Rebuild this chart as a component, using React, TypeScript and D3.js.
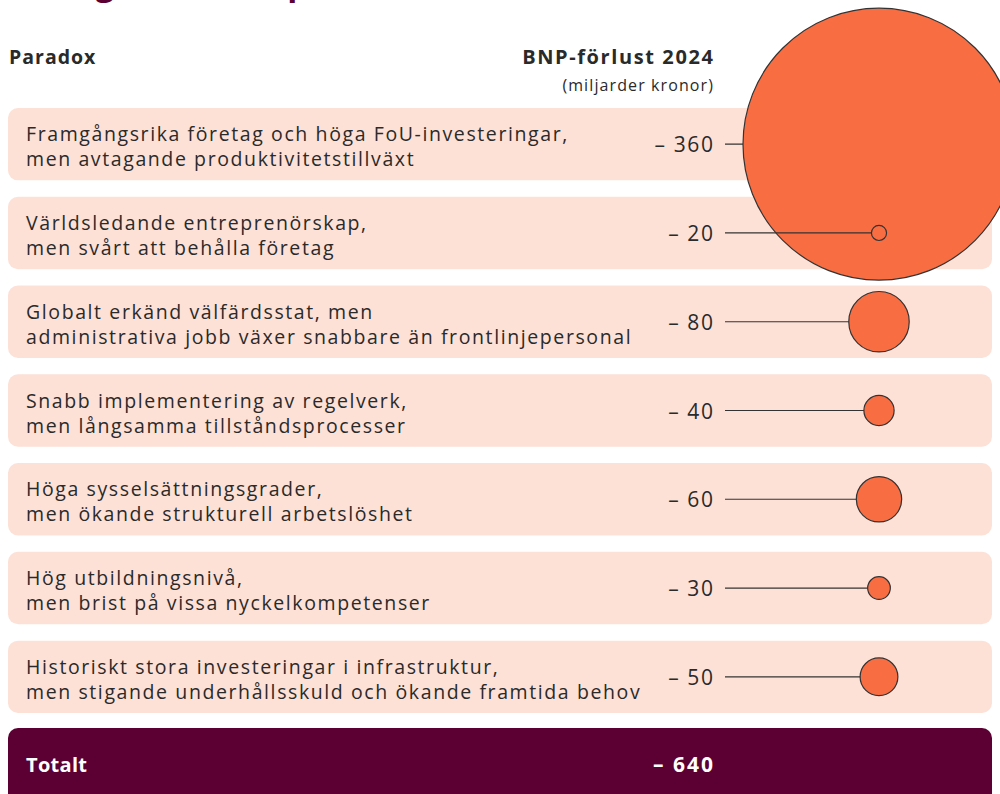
import React from "react";
import * as d3 from "d3";

const paradoxLine1 = [
  "Framgångsrika företag och höga FoU-investeringar,",
  "Världsledande entreprenörskap,",
  "Globalt erkänd välfärdsstat, men",
  "Snabb implementering av regelverk,",
  "Höga sysselsättningsgrader,",
  "Hög utbildningsnivå,",
  "Historiskt stora investeringar i infrastruktur,",
];
const paradoxLine2 = [
  "men avtagande produktivitetstillväxt",
  "men svårt att behålla företag",
  "administrativa jobb växer snabbare än frontlinjepersonal",
  "men långsamma tillståndsprocesser",
  "men ökande strukturell arbetslöshet",
  "men brist på vissa nyckelkompetenser",
  "men stigande underhållsskuld och ökande framtida behov",
];
const losses = [360, 20, 80, 40, 60, 30, 50];
const totalLabel = "Totalt";
const totalValue = 640;
const titleText = "Sveriges tillväxtparadoxer";

const W = 1000;
const H = 794;
const FONT = "'Open Sans', 'DejaVu Sans', sans-serif";
const TXT = "#2a2a2a";
const ROWBG = "#FDE1D7";
const DOT = "#F96D42";
const PURPLE = "#5C0034";

export default function App() {
  const idx = d3.range(losses.length);
  const y = d3.scaleBand<number>().domain(idx).range([108, 713]).paddingInner(0.185).paddingOuter(0);
  const r = d3.scaleLinear().domain([0, 360]).range([0, 136]);
  const cx = 879;
  const rowX = 8;
  const rowW = 984;
  const labelX = 713;
  const lineX0 = 725;
  const fmt = (v: number) => "\u2013 " + d3.format("d")(v);

  return (
    <svg width={W} height={H} style={{ position: "absolute", left: 0, top: 0, background: "#fff" }}>
      <text x={9} y={-5} fontFamily={FONT} fontWeight={700} fontSize={33} fill={PURPLE} letterSpacing={1}>
        {titleText}
      </text>
      <text x={9} y={64} fontFamily={FONT} fontWeight={700} fontSize={19.5} fill={TXT} letterSpacing={1}>
        Paradox
      </text>
      <text x={labelX + 1.5} y={64} textAnchor="end" fontFamily={FONT} fontWeight={700} fontSize={20} fill={TXT} letterSpacing={1.6}>
        BNP-förlust 2024
      </text>
      <text x={labelX + 1} y={91} textAnchor="end" fontFamily={FONT} fontSize={16} fill={TXT} letterSpacing={1.1}>
        (miljarder kronor)
      </text>
      {idx.map((i) => (
        <rect key={"bg" + i} x={rowX} y={y(i)} width={rowW} height={y.bandwidth()} rx={10} fill={ROWBG} />
      ))}
      {idx.map((i) => {
        const cy = (y(i) as number) + y.bandwidth() / 2;
        return (
          <g key={"row" + i}>
            <text x={26} y={cy - 3} fontFamily={FONT} fontSize={19.5} fill={TXT} letterSpacing={1.6}>
              {paradoxLine1[i]}
            </text>
            <text x={26} y={cy + 22} fontFamily={FONT} fontSize={19.5} fill={TXT} letterSpacing={1.6}>
              {paradoxLine2[i]}
            </text>
            <text x={labelX + 1.5} y={cy + 8} textAnchor="end" fontFamily={FONT} fontSize={21} fill={TXT} letterSpacing={1.6}>
              {fmt(losses[i])}
            </text>
            <line x1={lineX0} x2={cx} y1={cy} y2={cy} stroke="#333" strokeWidth={1.2} />
            <circle cx={cx} cy={cy} r={r(losses[i])} fill={DOT} stroke="#333" strokeWidth={1.2} />
          </g>
        );
      })}
      <path
        d={`M${rowX},${728 + 10} a10,10 0 0 1 10,-10 H${rowX + rowW - 10} a10,10 0 0 1 10,10 V${H + 10} H${rowX} Z`}
        fill={PURPLE}
      />
      <text x={26} y={772} fontFamily={FONT} fontWeight={700} fontSize={20} fill="#fff" letterSpacing={0.3}>
        {totalLabel}
      </text>
      <text x={labelX + 2} y={772} textAnchor="end" fontFamily={FONT} fontWeight={700} fontSize={21} fill="#fff" letterSpacing={2}>
        {fmt(totalValue)}
      </text>
    </svg>
  );
}
